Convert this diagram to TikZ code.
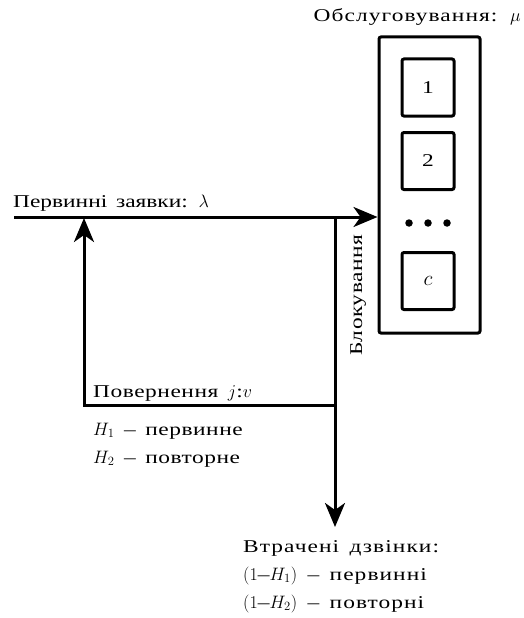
\RequirePackage{fix-cm}
\documentclass[tikz,border=0pt]{standalone}
\usepackage{fontspec}
\setmainfont[FakeStretch=1.3,LetterSpace=3,WordSpace=1.5]{Liberation Serif}
\usetikzlibrary{arrows.meta}

\begin{document}
\begin{tikzpicture}[x=1pt,y=-1pt,
  wire/.style={line width=3pt},
  flow/.style={wire,-{Stealth[length=24pt,width=20pt,inset=7pt]}},
  server/.style={draw,line width=3pt,rounded corners=2pt,minimum width=52pt,minimum height=57pt,inner sep=0pt},
  dot/.style={circle,fill,inner sep=0pt,minimum size=7.5pt},
  lbl/.style={font=\fontsize{18}{21}\selectfont,inner sep=0pt},
  tight/.style={lbl,font=\fontsize{18}{21}\selectfont\addfontfeature{LetterSpace=0}},
  loose/.style={lbl,font=\fontsize{18}{21}\selectfont\addfontfeature{LetterSpace=6}}]
\useasboundingbox (0,0) rectangle (523,618);

% service station with c servers
\node[draw,line width=3pt,rounded corners=2pt,minimum width=101pt,minimum height=296pt,inner sep=0pt] (srv) at (429.5,185) {};
\node[server,lbl] (s1) at (428,87.5) {1};
\node[server,lbl] (s2) at (428,161) {2};
\node[server,font=\fontsize{21}{24}\selectfont] (sc) at (428,281) {$c$};
\node[dot] (d1) at (409,223) {};
\node[dot] (d2) at (428,223) {};
\node[dot] (d3) at (447,223) {};
\node[loose,anchor=base east] (title) at (521,22) {Обслуговування: $\mu$};

% arrival stream
\coordinate (src) at (14,217);
\coordinate (jt) at (335,217);
\draw[flow] (src) -- (src -| srv.west);
\node[tight,anchor=base west] (arr) at (13,207) {Первинні заявки: $\lambda$};

% blocking branch and retrial loop
\coordinate (jb) at (335,405);
\coordinate (rb) at (84,405);
\coordinate (rt) at (84,218);
\coordinate (lost) at (335,527);
\draw[wire] (jt) -- (jb);
\draw[flow] (jb) -- (rb) -- (rt);
\draw[flow] (jb) -- (lost);
\node[lbl,anchor=base west,rotate=90] (blk) at (362,356) {Блокування};

\node[lbl,anchor=base west] (ret) at (93,397) {Повернення $j$:$v$};
\node[lbl,anchor=base west] (h1) at (93,435) {$H_1$ – первинне};
\node[lbl,anchor=base west] (h2) at (93,463) {$H_2$ – повторне};

\node[loose,anchor=base west] (l0) at (243,552) {Втрачені дзвінки:};
\node[loose,anchor=base west] (l1) at (243,580) {$(1$–$H_1)$ – первинні};
\node[loose,anchor=base west] (l2) at (243,608) {$(1$–$H_2)$ – повторні};
\end{tikzpicture}
\end{document}
